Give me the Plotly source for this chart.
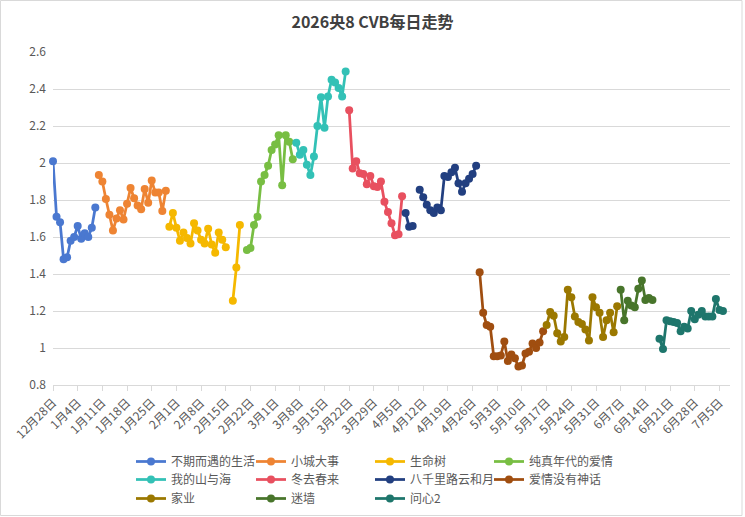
import pandas as pd
import plotly.graph_objects as go

# ---------------- data ----------------
series_names = ["不期而遇的生活", "小城大事", "生命树", "纯真年代的爱情",
                "我的山与海", "冬去春来", "八千里路云和月", "爱情没有神话",
                "家业", "迷墙", "问心2"]

start_dates = ["2025-12-28", "2026-01-10", "2026-01-30", "2026-02-21",
               "2026-03-07", "2026-03-22", "2026-04-07", "2026-04-28",
               "2026-05-17", "2026-06-07", "2026-06-18"]

v_buqi = [2.01, 1.71, 1.68, 1.48, 1.49, 1.58, 1.60, 1.66, 1.59, 1.62, 1.60, 1.65, 1.76]
v_xiaocheng = [1.935, 1.90, 1.805, 1.72, 1.635, 1.70, 1.745, 1.695, 1.78, 1.865,
               1.81, 1.77, 1.75, 1.86, 1.785, 1.905, 1.84, 1.84, 1.74, 1.85]
v_shengming = [1.655, 1.73, 1.65, 1.58, 1.625, 1.595, 1.565, 1.675, 1.635, 1.585,
               1.565, 1.645, 1.56, 1.515, 1.625, 1.585, 1.545, None, 1.255, 1.435, 1.665]
v_chunzhen = [1.53, 1.54, 1.665, 1.71, 1.90, 1.935, 1.985, 2.07, 2.10, 2.15,
              1.88, 2.15, 2.115, 2.02]
v_shanhai = [2.11, 2.045, 2.07, 1.99, 1.935, 2.035, 2.20, 2.355, 2.19, 2.36,
             2.45, 2.435, 2.405, 2.36, 2.495]
v_dongqu = [2.285, 1.97, 2.01, 1.945, 1.94, 1.885, 1.93, 1.875, 1.87, 1.90,
            1.79, 1.735, 1.675, 1.61, 1.615, 1.82]
v_baqian = [1.73, 1.655, 1.66, None, 1.855, 1.815, 1.775, 1.745, 1.73, 1.76,
            1.745, 1.93, 1.925, 1.95, 1.975, 1.89, 1.845, 1.89, 1.915, 1.94, 1.985]
v_aiqing = [1.41, 1.19, 1.125, 1.115, 0.955, 0.955, 0.96, 1.035, 0.93, 0.965,
            0.945, 0.90, 0.905, 0.97, 0.98, 1.025, 1.00, 1.03, 1.09]
v_jiaye = [1.125, 1.195, 1.175, 1.08, 1.035, 1.06, 1.315, 1.275, 1.17, 1.14,
           1.13, 1.10, 1.04, 1.275, 1.22, 1.19, 1.06, 1.15, 1.19, 1.085, 1.225]
v_miqiang = [1.315, 1.15, 1.255, 1.23, 1.22, 1.32, 1.365, 1.26, 1.27, 1.26]
v_wenxin = [1.05, 0.995, 1.15, 1.145, 1.14, 1.135, 1.09, 1.115, 1.105, 1.20,
            1.155, 1.18, 1.20, 1.17, 1.17, 1.17, 1.265, 1.205, 1.20]

series_values = [v_buqi, v_xiaocheng, v_shengming, v_chunzhen, v_shanhai, v_dongqu,
                 v_baqian, v_aiqing, v_jiaye, v_miqiang, v_wenxin]

tick_labels = ["12月28日", "1月4日", "1月11日", "1月18日", "1月25日", "2月1日", "2月8日",
               "2月15日", "2月22日", "3月1日", "3月8日", "3月15日", "3月22日", "3月29日",
               "4月5日", "4月12日", "4月19日", "4月26日", "5月3日", "5月10日", "5月17日",
               "5月24日", "5月31日", "6月7日", "6月14日", "6月21日", "6月28日", "7月5日"]
tick_start = "2025-12-28"

# ---------------- style ----------------
colors = ["#4A78D0", "#EE8433", "#F5B800", "#78BE43", "#33C1B6", "#E8505F",
          "#223F80", "#A04E10", "#9B7800", "#48752B", "#1E766C"]
FONT = "Noto Sans CJK SC, Microsoft YaHei, sans-serif"
W, H = 745, 517
ML, MR, MT, MB = 53, 15, 52, 132
PW, PH = W - ML - MR, H - MT - MB

# legend grid (pixel positions of symbol start / row centre)
LEG_COLS = [137, 257, 376, 495]
LEG_ROWS = [460, 478, 497]


def px_x(px):
    return (px - ML) / PW


def px_y(py):
    return (H - MB - py) / PH


fig = go.Figure()
legends = {}
for i, (name, start, vals, col) in enumerate(zip(series_names, start_dates, series_values, colors)):
    x = pd.date_range(start, periods=len(vals), freq="D")
    key = "legend" if i == 0 else f"legend{i + 1}"
    fig.add_trace(go.Scatter(
        x=x, y=vals, name=name, mode="lines+markers", legend=key,
        line=dict(color=col, width=2.75), marker=dict(color=col, size=8),
        connectgaps=False, cliponaxis=False))
    cx = LEG_COLS[i % 4]
    cy = LEG_ROWS[i // 4]
    legends[key] = dict(orientation="h", xanchor="left", yanchor="top",
                        x=px_x(cx - 6), y=px_y(cy - 13),
                        font=dict(family=FONT, size=12, color="#595959"),
                        bgcolor="rgba(0,0,0,0)", itemwidth=30)

tick_vals = pd.date_range(tick_start, periods=len(tick_labels), freq="7D")

fig.update_layout(
    width=W, height=H,
    margin=dict(l=ML, r=MR, t=MT, b=MB, autoexpand=False),
    paper_bgcolor="white", plot_bgcolor="white",
    font=dict(family=FONT, size=12, color="#595959"),
    title=dict(text="2026央8 CVB每日走势", x=0.5, xref="container", xanchor="center",
               y=1 - 22 / H, yref="container", yanchor="middle",
               font=dict(family=FONT, size=16, color="#404040", weight="bold")),
    xaxis=dict(type="date", range=["2025-12-28", "2026-07-08"],
               tickvals=tick_vals, ticktext=tick_labels, tickangle=-45,
               showgrid=False, showline=True, linecolor="#D9D9D9", linewidth=1,
               ticks="outside", ticklen=5, tickcolor="#D9D9D9",
               tickfont=dict(family=FONT, size=12, color="#595959"), zeroline=False),
    yaxis=dict(range=[0.8, 2.6], tick0=0.8, dtick=0.2, showgrid=True,
               gridcolor="#D9D9D9", gridwidth=1, zeroline=False, showline=False,
               ticks="", ticklabelstandoff=6,
               tickfont=dict(family=FONT, size=12, color="#595959")),
    shapes=[dict(type="rect", xref="paper", yref="paper",
                 x0=px_x(0.5), x1=px_x(742), y0=px_y(515.5), y1=px_y(0.5),
                 line=dict(color="#D9D9D9", width=1), layer="below")],
    showlegend=True,
    **legends,
)

fig.write_html("out.html")
